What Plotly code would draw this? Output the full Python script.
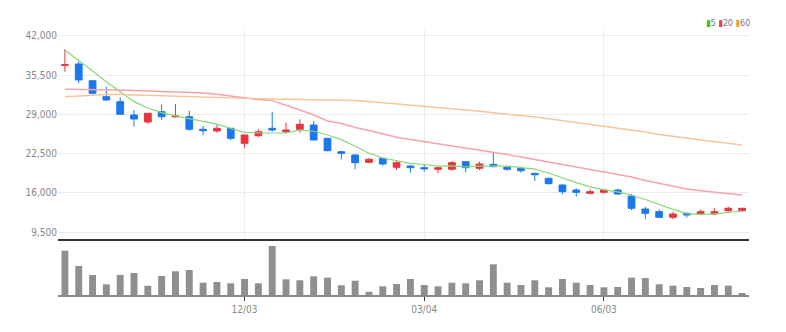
import plotly.graph_objects as go

dates = ["2018-09-03","2018-09-10","2018-09-17","2018-09-24","2018-10-01","2018-10-08","2018-10-15","2018-10-22",
         "2018-10-29","2018-11-05","2018-11-12","2018-11-19","2018-11-26","2018-12-03","2018-12-10","2018-12-17",
         "2018-12-24","2018-12-31","2019-01-07","2019-01-14","2019-01-21","2019-01-28","2019-02-04","2019-02-11",
         "2019-02-18","2019-02-25","2019-03-04","2019-03-11","2019-03-18","2019-03-25","2019-04-01","2019-04-08",
         "2019-04-15","2019-04-22","2019-04-29","2019-05-06","2019-05-13","2019-05-20","2019-05-27","2019-06-03",
         "2019-06-10","2019-06-17","2019-06-24","2019-07-01","2019-07-08","2019-07-15","2019-07-22","2019-07-29",
         "2019-08-05","2019-08-12"]

open_ = [37100, 37320, 34560, 31920, 31090, 28890, 27735, 29440, 28580, 28610,
         26530, 26250, 26690, 24210, 25470, 26690, 26130, 26530, 27240, 25040,
         22825, 22280, 21070, 21730, 20250, 20460, 20180, 19920, 19920, 21170,
         20080, 20740, 20250, 20080, 19250, 18430, 17320, 16490, 15950, 16110,
         16490, 15500, 13355, 12910, 11980, 12640, 12530, 12530, 13070, 13070]
high = [39750, 37700, 34680, 33570, 31820, 29720, 29250, 30660, 30710, 29600,
        27070, 27240, 26750, 25650, 26530, 29440, 27620, 28180, 27900, 25100,
        22990, 22350, 21730, 21800, 21340, 20630, 20630, 20250, 21290, 21250,
        21170, 22825, 20460, 20350, 19300, 18540, 17400, 16780, 16610, 16660,
        16660, 15830, 13730, 13300, 12910, 12810, 13300, 13470, 13730, 13550]
low = [36050, 34130, 32310, 31260, 28950, 26960, 27400, 28065, 28450, 26300,
       25540, 25970, 24760, 23390, 25210, 26130, 25870, 25970, 24700, 22900,
       21570, 19920, 20910, 20510, 19800, 19350, 19520, 19250, 19680, 19420,
       19800, 20250, 19680, 19350, 17980, 17420, 15780, 15390, 15780, 15950,
       15670, 13190, 11700, 11900, 11650, 11915, 12480, 12480, 12740, 12900]
close = [37200, 34680, 32480, 31370, 29010, 28230, 29170, 28610, 28730, 26530,
         26300, 26690, 25040, 25590, 26130, 26410, 26410, 27350, 24760, 22990,
         22560, 21010, 21570, 20790, 21010, 20180, 20015, 20180, 21010, 20180,
         20790, 20350, 19920, 19680, 19020, 17540, 16210, 16110, 16210, 16490,
         15830, 13470, 12640, 11980, 12530, 12360, 12910, 12910, 13470, 13470]

ma5 = [39640, 37980, 36170, 34400, 32800, 31100, 30050, 29280, 28750, 28250,
       27870, 27370, 26660, 26030, 25950, 25970, 25920, 26380, 26210, 25590,
       24820, 23730, 22580, 21780, 21390, 20910, 20710, 20440, 20480, 20310,
       20440, 20500, 20450, 20180, 19950, 19300, 18470, 17710, 17020, 16510,
       16170, 15630, 14930, 14080, 13290, 12600, 12480, 12540, 12830, 13020]
ma20 = [33140, 33140, 33140, 33100, 33020, 32940, 32860, 32800, 32740, 32640,
        32530, 32310, 32030, 31650, 31450, 31260, 30540, 29720, 28890, 27900,
        27490, 26830, 26330, 25750, 25210, 24840, 24480, 24150, 23800, 23470,
        23160, 22780, 22360, 21950, 21540, 21040, 20630, 20210, 19800, 19470,
        19090, 18640, 18060, 17570, 17070, 16660, 16360, 16110, 15880, 15670]
ma60 = [31920, 32070, 32200, 32280, 32280, 32200, 32110, 32030, 31950, 31920,
        31830, 31750, 31700, 31650, 31590, 31540, 31510, 31490, 31470, 31440,
        31390, 31290, 31130, 30940, 30740, 30560, 30380, 30160, 29930, 29720,
        29500, 29270, 29060, 28790, 28560, 28280, 27980, 27700, 27370, 27070,
        26740, 26410, 26080, 25670, 25340, 25010, 24730, 24460, 24200, 23930]

volume = [44300, 29000, 20000, 10700, 20000, 22000, 9300, 19000, 23700, 25000,
          12300, 13000, 11700, 16000, 11700, 49000, 15700, 14700, 18700, 17300,
          9700, 14300, 3300, 8700, 11000, 16000, 10000, 8700, 12300, 11700,
          14700, 30700, 12300, 10000, 14700, 7700, 16000, 12300, 10000, 7700,
          8000, 17300, 17000, 10700, 9300, 8000, 7000, 10000, 9300, 2000]

price_ticks = [9500, 16000, 22500, 29000, 35500, 42000]
x_tickvals = ["2018-12-03", "2019-03-04", "2019-06-03"]
x_ticktext = ["12/03", "03/04", "06/03"]

W, H = 786, 332
FONT = "Liberation Sans Narrow, Arial Narrow, DejaVu Sans Condensed, sans-serif"

fig = go.Figure()
fig.add_trace(go.Candlestick(
    x=dates, open=open_, high=high, low=low, close=close,
    increasing=dict(line=dict(color="#e8353d", width=1), fillcolor="#e8353d"),
    decreasing=dict(line=dict(color="#1a78ec", width=1), fillcolor="#1a78ec"),
    whiskerwidth=0, xaxis="x", yaxis="y", showlegend=False, hoverinfo="skip"))
fig.add_trace(go.Scatter(x=dates, y=ma5, mode="lines", line=dict(color="#86d879", width=1.2),
                         xaxis="x", yaxis="y", showlegend=False))
fig.add_trace(go.Scatter(x=dates, y=ma20, mode="lines", line=dict(color="#f5a3ab", width=1.4),
                         xaxis="x", yaxis="y", showlegend=False))
fig.add_trace(go.Scatter(x=dates, y=ma60, mode="lines", line=dict(color="#f9c495", width=1.4),
                         xaxis="x", yaxis="y", showlegend=False))
fig.add_trace(go.Bar(x=dates, y=volume, marker=dict(color="#8f8f8f", line=dict(width=0)),
                     width=0.5, xaxis="x2", yaxis="y2", showlegend=False))

xl, xr = 58 / W, 749 / W
fig.update_layout(
    width=W, height=H, margin=dict(l=0, r=0, t=0, b=0),
    paper_bgcolor="white", plot_bgcolor="white",
    font=dict(family=FONT, size=10, color="#888"),
    xaxis=dict(domain=[xl, xr], type="category", range=[-0.5, 49.5],
               rangeslider=dict(visible=False), tickvals=x_tickvals, ticktext=x_ticktext,
               showticklabels=False, showgrid=True, gridcolor="#ececec", gridwidth=1,
               showline=True, linecolor="#333", linewidth=2, ticks="", zeroline=False,
               anchor="y"),
    yaxis=dict(domain=[1 - 239 / H, 1 - 30 / H], range=[8394, 42942],
               tickvals=price_ticks, tickformat=",d", showgrid=True, gridcolor="#ececec",
               gridwidth=1, zeroline=False, showline=False, ticks="", tickfont=dict(size=10, color="#888"),
               anchor="x"),
    xaxis2=dict(domain=[xl, xr], type="category", range=[-0.5, 49.5], matches=None,
                tickvals=x_tickvals, ticktext=x_ticktext, showgrid=False,
                showline=True, linecolor="#8a8a8a", linewidth=2, ticks="outside",
                ticklen=4, tickwidth=1, tickcolor="#333", zeroline=False,
                tickfont=dict(size=10, color="#888"), anchor="y2"),
    yaxis2=dict(domain=[1 - 295 / H, 1 - 240 / H], range=[0, 55000], showticklabels=False,
                showgrid=False, zeroline=False, showline=False, ticks="", anchor="x2"),
    bargap=0.5,
    annotations=[dict(
        xref="paper", yref="paper", x=752 / W, y=1 - 23 / H, xanchor="right", yanchor="middle",
        showarrow=False, font=dict(family=FONT, size=9, color="#777"),
        text="<span style='color:#2fbf2f'>▮</span>5 <span style='color:#ee3b45'>▮</span>20 "
             "<span style='color:#f5973a'>▮</span>60")],
)

fig.write_html("out.html")
